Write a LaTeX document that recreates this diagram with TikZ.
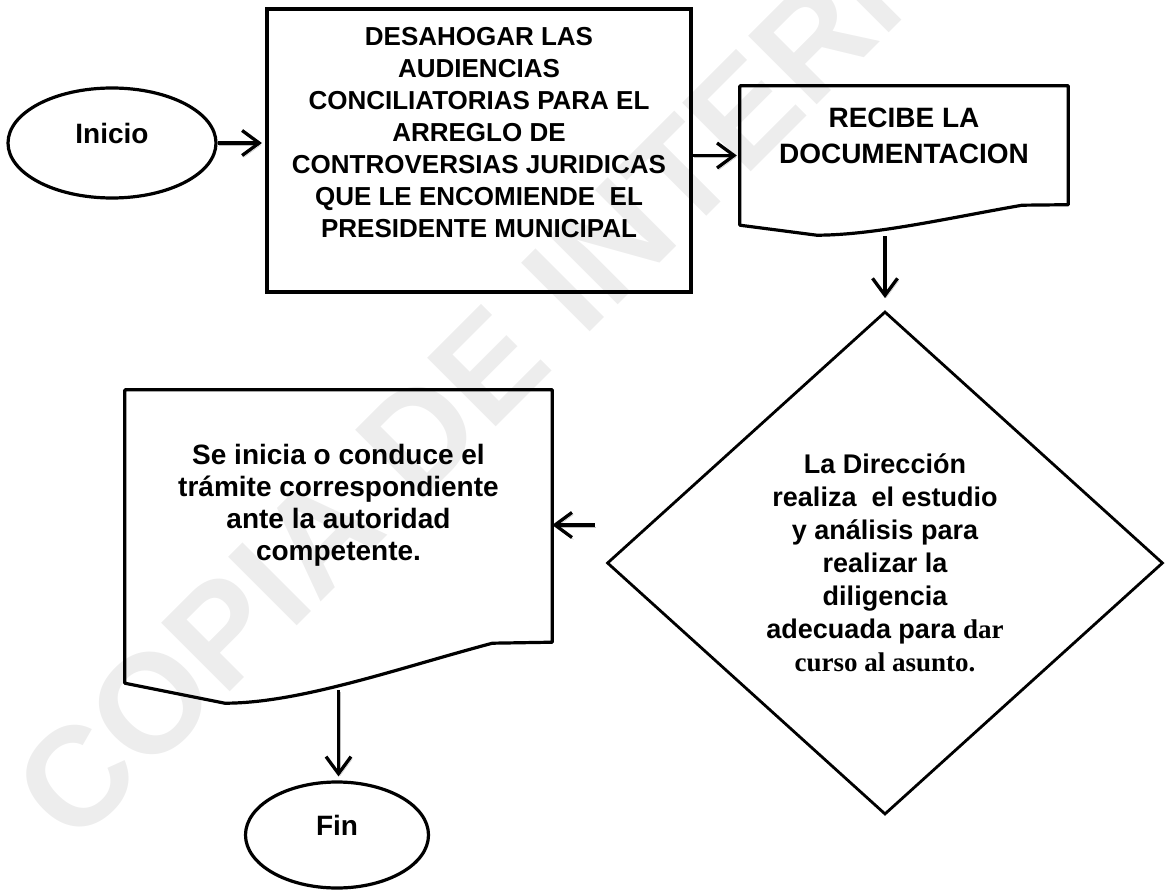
\documentclass[tikz,border=0pt]{standalone}
\usepackage{fontspec}
\setmainfont{Liberation Sans}
\newfontfamily\serifbold{Liberation Serif}
\usetikzlibrary{shapes.geometric,arrows.meta,calc}

\tikzset{
    forma/.style={draw, line width=3.2pt, inner sep=0pt},
    caja/.style={forma, rectangle},
    elipse/.style={forma, ellipse, font=\fontsize{28}{32}\selectfont\bfseries},
    rombo/.style={forma, diamond, line width=2.8pt, align=center,
        font=\fontsize{27}{33}\selectfont\bfseries},
    hoja/.style={rectangle, inner sep=0pt},
    flecha/.style={line width=3.3pt, -{Straight Barb[length=17pt,width=25pt]},
        preaction={draw=gray!50, transform canvas={shift={(1.5pt,-2pt)}}}},
    marca/.style={text=gray!14, rotate=45,
        font=\fontsize{141}{141}\selectfont\bfseries}
}

\newcommand{\hojaborde}[2]{%
    \draw[line width=3.2pt, line join=round] (#1.south west)
        -- ($(#1.south west)!0.234!(#1.south east)+(0,#2)$)
        .. controls ($(#1.south west)!0.41!(#1.south east)+(0,#2)$)
        and ($(#1.south west)!0.64!(#1.south east)+(0,-0.75*#2)$)
        .. ($(#1.south west)!0.86!(#1.south east)+(0,-2*#2)$)
        -- ($(#1.south east)+(0,-2.05*#2)$)
        -- (#1.north east) -- (#1.north west) -- cycle;}

\begin{document}
    \begin{tikzpicture}[x=1pt, y=-1pt]
        \useasboundingbox (0,0) rectangle (1166,890);
        \node[marca] (copia) at (544,310) {COPIA DE INTERNET};

        \node[elipse, minimum width=208pt, minimum height=110pt] (inicio) at (112,143)
            {\raisebox{10pt}[\height][\depth]{Inicio}};
        \node[caja, minimum width=424pt, minimum height=283pt,
            font=\fontsize{26}{32}\selectfont\bfseries] (desahogar) at (479,150.5)
            {\parbox[c][246pt][t]{420pt}{\centering
            DESAHOGAR LAS\\ AUDIENCIAS\\ CONCILIATORIAS PARA EL\\ ARREGLO DE\\
            CONTROVERSIAS JURIDICAS\\ QUE LE ENCOMIENDE~ EL\\ PRESIDENTE MUNICIPAL}};
        \node[hoja, minimum width=328pt, minimum height=139pt,
            font=\fontsize{28}{36}\selectfont\bfseries] (recibe) at (904,155.5)
            {\parbox[c][95pt][t]{320pt}{\centering RECIBE LA\\ DOCUMENTACION}};
        \hojaborde{recibe}{10}
        \node[rombo, minimum width=556pt, minimum height=503pt] (analisis) at (885,563)
            {La Dirección\\ realiza~ el estudio\\ y análisis para\\ realizar la\\
            diligencia\\ adecuada para {\serifbold dar}\\ {\serifbold curso al asunto.}};
        \node[hoja, minimum width=427pt, minimum height=293pt,
            font=\fontsize{28}{32}\selectfont\bfseries] (tramite) at (338.5,536.5)
            {\parbox[c][185pt][t]{420pt}{\centering Se inicia o conduce el\\
            trámite correspondiente\\ ante la autoridad\\ competente.}};
        \hojaborde{tramite}{20}
        \node[elipse, minimum width=183pt, minimum height=106pt] (fin) at (337,835)
            {\raisebox{10pt}[\height][\depth]{Fin}};

        \draw[flecha, shorten >=3.5pt] (inicio.east) -- (inicio.east -| desahogar.west);
        \draw[flecha, shorten >=3pt] (desahogar.east |- recibe.west) -- (recibe.west);
        \draw[flecha, shorten >=12pt] ($(recibe.south -| analisis.north)+(0,11)$) -- (analisis.north);
        \draw[flecha] ([xshift=-11pt,yshift=38pt]analisis.west) -- ([yshift=38pt]analisis.west -| tramite.east);
        \draw[flecha, shorten <=7pt, shorten >=4pt] (tramite.south) -- (tramite.south |- fin.north);
    \end{tikzpicture}
\end{document}
